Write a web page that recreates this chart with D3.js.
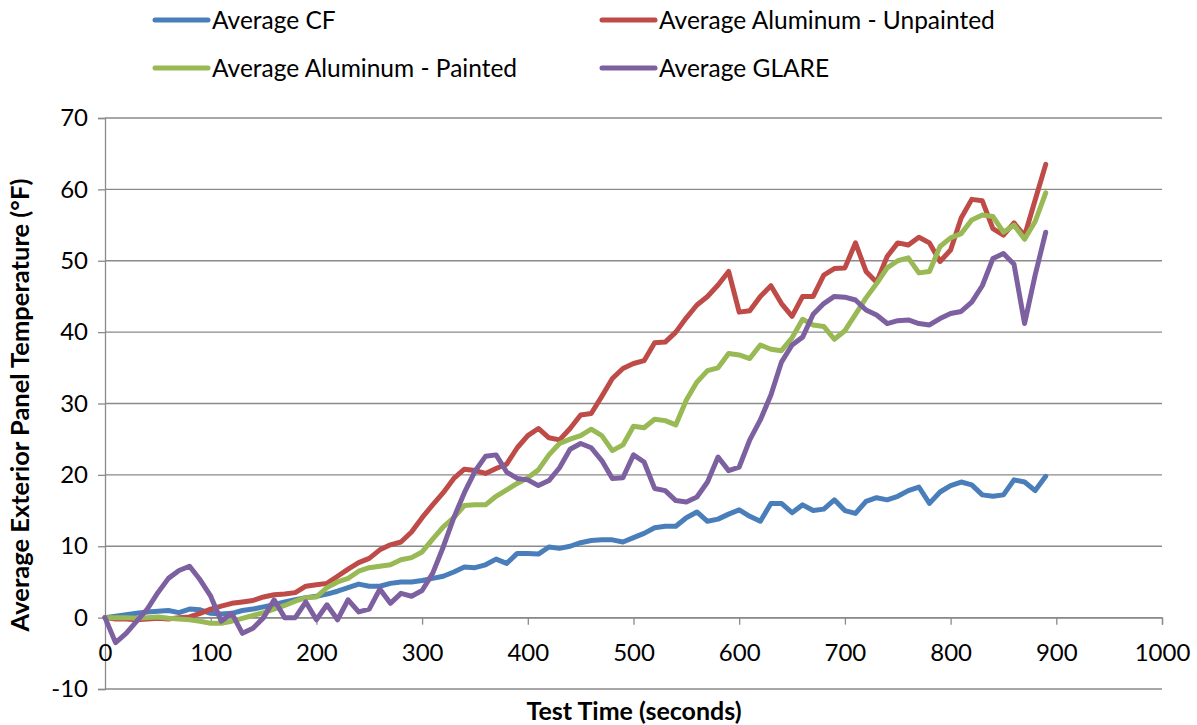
<!DOCTYPE html>
<html>
<head>
<meta charset="utf-8">
<script src="https://cdn.jsdelivr.net/npm/d3@7/dist/d3.min.js"></script>
<style>
  html, body { margin: 0; padding: 0; background: #ffffff; }
  svg text { font-family: Lato, "Open Sans", "Liberation Sans", sans-serif; fill: #000; }
</style>
</head>
<body>
<svg id="chart" width="1197" height="725"></svg>
<script>
// Sample times (seconds)
const times = d3.range(0, 900, 10);

// Average exterior panel temperature (°F) per series, one value per sample time
const cfValues = [
  0.0, 0.2, 0.4, 0.6, 0.8, 0.9, 1.0, 0.7, 1.2, 1.1,
  0.6, 0.5, 0.6, 1.0, 1.2, 1.5, 1.8, 2.2, 2.5, 2.8,
  3.0, 3.3, 3.7, 4.2, 4.7, 4.4, 4.4, 4.8, 5.0, 5.0,
  5.2, 5.5, 5.8, 6.4, 7.1, 7.0, 7.4, 8.2, 7.6, 9.0,
  9.0, 8.9, 9.9, 9.7, 10.0, 10.5, 10.8, 10.9, 10.9, 10.6,
  11.2, 11.8, 12.6, 12.8, 12.8, 14.0, 14.8, 13.5, 13.8, 14.5,
  15.1, 14.2, 13.5, 16.0, 16.0, 14.7, 15.8, 15.0, 15.2, 16.5,
  15.0, 14.6, 16.3, 16.8, 16.5, 17.0, 17.8, 18.3, 16.0, 17.6,
  18.5, 19.0, 18.6, 17.2, 17.0, 17.2, 19.3, 19.0, 17.8, 19.8
];
const aluUnpaintedValues = [
  0.0, -0.2, -0.2, -0.3, -0.2, -0.1, -0.2, 0.0, 0.1, 0.6,
  1.2, 1.6, 2.0, 2.2, 2.4, 2.9, 3.2, 3.3, 3.5, 4.4,
  4.6, 4.8, 5.8, 6.8, 7.7, 8.3, 9.5, 10.2, 10.6, 12.0,
  14.0, 15.8, 17.5, 19.5, 20.8, 20.6, 20.2, 20.9, 21.5, 23.8,
  25.5, 26.5, 25.2, 24.9, 26.5, 28.4, 28.6, 31.0, 33.5, 34.9,
  35.6, 36.0, 38.5, 38.6, 40.0, 42.0, 43.8, 45.0, 46.6, 48.5,
  42.8, 43.0, 45.0, 46.5, 44.0, 42.2, 45.0, 45.0, 48.0, 48.9,
  49.0, 52.5, 48.5, 47.0, 50.6, 52.5, 52.2, 53.3, 52.5, 49.9,
  51.5, 56.0, 58.6, 58.4, 54.5, 53.6, 55.3, 53.5, 58.5, 63.5
];
const aluPaintedValues = [
  0.0, 0.0, 0.0, -0.1, 0.0, 0.1, -0.1, -0.2, -0.3, -0.5,
  -0.8, -0.8, -0.5, -0.1, 0.3, 0.7, 1.2, 1.7, 2.3, 2.8,
  2.9, 4.2, 5.0, 5.5, 6.5, 7.0, 7.2, 7.4, 8.1, 8.4,
  9.2, 11.0, 12.7, 14.0, 15.7, 15.8, 15.8, 17.0, 17.9, 18.8,
  19.6, 20.7, 22.8, 24.4, 25.0, 25.5, 26.4, 25.5, 23.4, 24.2,
  26.8, 26.6, 27.8, 27.6, 27.0, 30.5, 33.0, 34.6, 35.0, 37.0,
  36.8, 36.3, 38.2, 37.6, 37.4, 39.2, 41.8, 41.0, 40.8, 39.0,
  40.2, 42.5, 44.8, 46.8, 49.0, 50.0, 50.4, 48.3, 48.5, 52.0,
  53.2, 53.8, 55.7, 56.4, 56.2, 54.0, 55.0, 53.0, 55.5, 59.5
];
const glareValues = [
  0.0, -3.5, -2.2, -0.5, 1.2, 3.5, 5.5, 6.6, 7.2, 5.3,
  3.0, -0.5, 0.6, -2.2, -1.5, 0.0, 2.5, 0.0, 0.0, 2.2,
  -0.3, 1.8, -0.3, 2.5, 0.8, 1.2, 4.0, 2.0, 3.4, 3.0,
  3.8, 6.2, 9.9, 14.0, 17.5, 20.5, 22.6, 22.8, 20.4, 19.5,
  19.3, 18.5, 19.2, 21.0, 23.6, 24.4, 23.8, 22.0, 19.5, 19.6,
  22.8, 21.8, 18.1, 17.8, 16.4, 16.2, 16.9, 19.0, 22.5, 20.6,
  21.1, 24.9, 27.7, 31.2, 35.8, 38.2, 39.3, 42.5, 44.0, 45.0,
  44.9, 44.5, 43.1, 42.4, 41.2, 41.6, 41.7, 41.2, 41.0, 41.9,
  42.6, 42.9, 44.2, 46.5, 50.3, 51.0, 49.5, 41.2, 48.0, 54.0
];

const seriesNames = [
  "Average CF",
  "Average Aluminum - Unpainted",
  "Average Aluminum - Painted",
  "Average GLARE"
];
const seriesColors = ["#4a7ebb", "#be4b48", "#98b954", "#7d60a0"];
const seriesValues = [cfValues, aluUnpaintedValues, aluPaintedValues, glareValues];

const xTicks = d3.range(0, 1001, 100);
const yTicks = d3.range(-10, 71, 10);

const svg = d3.select("#chart");
const plot = { left: 105, right: 1162, top: 118, bottom: 689 };

const x = d3.scaleLinear().domain([0, 1000]).range([plot.left, plot.right]);
const y = d3.scaleLinear().domain([-10, 70]).range([plot.bottom, plot.top]);

const gridColor = "#8a8a8a";
const plainNumber = d => String(d);

// Horizontal gridlines
svg.append("g")
  .selectAll("line")
  .data(yTicks)
  .join("line")
  .attr("x1", plot.left).attr("x2", plot.right)
  .attr("y1", d => y(d)).attr("y2", d => y(d))
  .attr("stroke", gridColor).attr("stroke-width", 1.3);

// Y axis on the left
const yAxis = svg.append("g")
  .attr("transform", `translate(${plot.left},0)`)
  .call(d3.axisLeft(y).tickValues(yTicks).tickSize(7).tickPadding(10).tickFormat(plainNumber));
yAxis.select(".domain").attr("stroke", gridColor).attr("stroke-width", 1.3);
yAxis.selectAll(".tick line").attr("stroke", gridColor).attr("stroke-width", 1.3);
yAxis.selectAll(".tick text").attr("font-size", 24).attr("font-family", "Lato, sans-serif").attr("fill", "#000");

// X axis crossing at zero
const xAxis = svg.append("g")
  .attr("transform", `translate(0,${y(0)})`)
  .call(d3.axisBottom(x).tickValues(xTicks).tickSize(7).tickPadding(19).tickFormat(plainNumber));
xAxis.select(".domain").attr("stroke", gridColor).attr("stroke-width", 1.3);
xAxis.selectAll(".tick line").attr("stroke", gridColor).attr("stroke-width", 1.3);
xAxis.selectAll(".tick text").attr("font-size", 24).attr("font-family", "Lato, sans-serif").attr("fill", "#000");

// Series lines
const line = d3.line()
  .x((d, i) => x(times[i]))
  .y(d => y(d))
  .curve(d3.curveLinear);

svg.append("g")
  .selectAll("path")
  .data(seriesValues)
  .join("path")
  .attr("d", d => line(d))
  .attr("fill", "none")
  .attr("stroke", (d, i) => seriesColors[i])
  .attr("stroke-width", 5)
  .attr("stroke-linejoin", "round")
  .attr("stroke-linecap", "round");

// Axis titles
svg.append("text")
  .attr("x", 634)
  .attr("y", 720)
  .attr("text-anchor", "middle")
  .attr("font-size", 25)
  .attr("font-weight", "bold")
  .text("Test Time (seconds)");

svg.append("text")
  .attr("transform", `translate(29,${405}) rotate(-90)`)
  .attr("text-anchor", "middle")
  .attr("font-size", 25.5)
  .attr("font-weight", "bold")
  .text("Average Exterior Panel Temperature (°F)");

// Legend: two rows of two entries
const legendPos = [
  { lx: 153, ly: 20 }, { lx: 600, ly: 20 },
  { lx: 153, ly: 68 }, { lx: 600, ly: 68 }
];
const legend = svg.append("g")
  .selectAll("g")
  .data(seriesNames)
  .join("g")
  .attr("transform", (d, i) => `translate(${legendPos[i].lx},${legendPos[i].ly})`);
legend.append("line")
  .attr("x1", 2).attr("x2", 55)
  .attr("y1", 0).attr("y2", 0)
  .attr("stroke", (d, i) => seriesColors[i])
  .attr("stroke-width", 5)
  .attr("stroke-linecap", "round");
legend.append("text")
  .attr("x", 59)
  .attr("y", 8.5)
  .attr("font-size", 24.5)
  .text(d => d);
</script>
</body>
</html>
